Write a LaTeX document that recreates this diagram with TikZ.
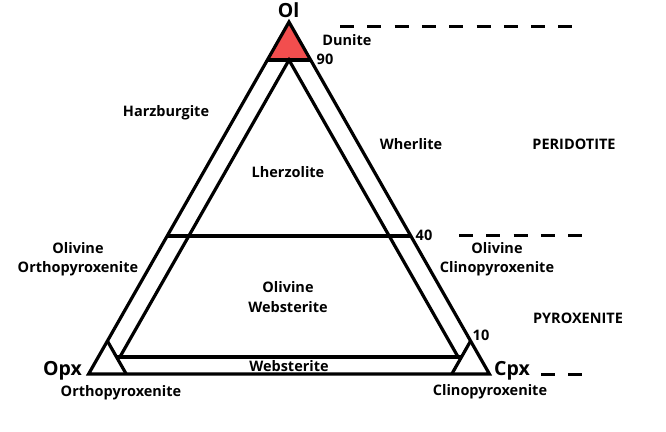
\documentclass[tikz,border=0pt]{standalone}
\usepackage{fontspec}
\setmainfont{Open Sans}
\definecolor{dunitered}{RGB}{242,78,78}
\begin{document}
\begin{tikzpicture}[x=1pt,y=-1pt,
  edge/.style={draw=black,line width=3.2pt,line join=miter,line cap=butt},
  dashln/.style={draw=black,line width=3pt,dash pattern=on 14pt off 13.3pt},
  lbl/.style={font=\fontsize{14.5}{19.5}\selectfont\bfseries,align=center,inner sep=0pt},
  big/.style={font=\fontsize{19.5}{22}\selectfont\bfseries,inner sep=0pt}]
\useasboundingbox (0,0) rectangle (666,431);
% outer corners
\coordinate (Ol) at (289,22);
\coordinate (Opx) at (88.6,374);
\coordinate (Cpx) at (489.4,374);
% 90% olivine line (Dunite)
\coordinate (d1) at (267.4,60);
\coordinate (d2) at (310.6,60);
% 40% olivine line
\coordinate (f1) at (167.2,236);
\coordinate (f2) at (410.8,236);
% inner (5%) triangle
\coordinate (i0) at (289,60);
\coordinate (iL) at (119.9,357);
\coordinate (iR) at (458.1,357);
\coordinate (bL) at (116.5,357);
\coordinate (bR) at (461.5,357);
% corner triangles (90% Opx / 90% Cpx)
\coordinate (oA) at (107.4,341);
\coordinate (oB) at (126.2,374);
\coordinate (cA) at (470.6,341);
\coordinate (cB) at (451.8,374);
% dashed guide ends
\coordinate (t1) at (340,26);  \coordinate (t2) at (573,26);
\coordinate (m1) at (459,235); \coordinate (m2) at (582,235);
\coordinate (b1) at (541,374); \coordinate (b2) at (582,374);

\fill[dunitered] (Ol) -- (d1) -- (d2) -- cycle;
\draw[edge] (d1) -- (d2);
\draw[edge] (f1) -- (f2);
\draw[edge] (iL) -- (i0) -- (iR);
\draw[edge] (bL) -- (bR);
\draw[edge] (oA) -- (oB);
\draw[edge] (cA) -- (cB);
\draw[edge] (Ol) -- (Opx) -- (Cpx) -- cycle;

\draw[dashln] (t1) -- (t2);
\draw[dashln] (m1) -- (m2);
\draw[dashln] (b1) -- (b2);

\node[big] (lOl) at (288.5,10) {Ol};
\node[big,anchor=base east] (lOpx) at (82,375) {Opx};
\node[big,anchor=base west] (lCpx) at (494,375) {Cpx};
\node[lbl] (dun) at (347,40) {Dunite};
\node[lbl] (n90) at (325,59) {90};
\node[lbl] (harz) at (166,113) {Harzburgite};
\node[lbl] (wher) at (411,144) {Wherlite};
\node[lbl] (peri) at (574,144) {PERIDOTITE};
\node[lbl] (lher) at (288,172) {Lherzolite};
\node[lbl] (n40) at (424,235) {40};
\node[lbl] (olor) at (78,259) {Olivine\\Orthopyroxenite};
\node[lbl] (olcl) at (497,259) {Olivine\\Clinopyroxenite};
\node[lbl] (olwe) at (288,297) {Olivine\\Websterite};
\node[lbl] (n10) at (481,335) {10};
\node[lbl] (pyro) at (578,318) {PYROXENITE};
\node[lbl] (webs) at (289,366) {Websterite};
\node[lbl] (orth) at (121,393) {Orthopyroxenite};
\node[lbl] (clin) at (490,392) {Clinopyroxenite};
\end{tikzpicture}
\end{document}
